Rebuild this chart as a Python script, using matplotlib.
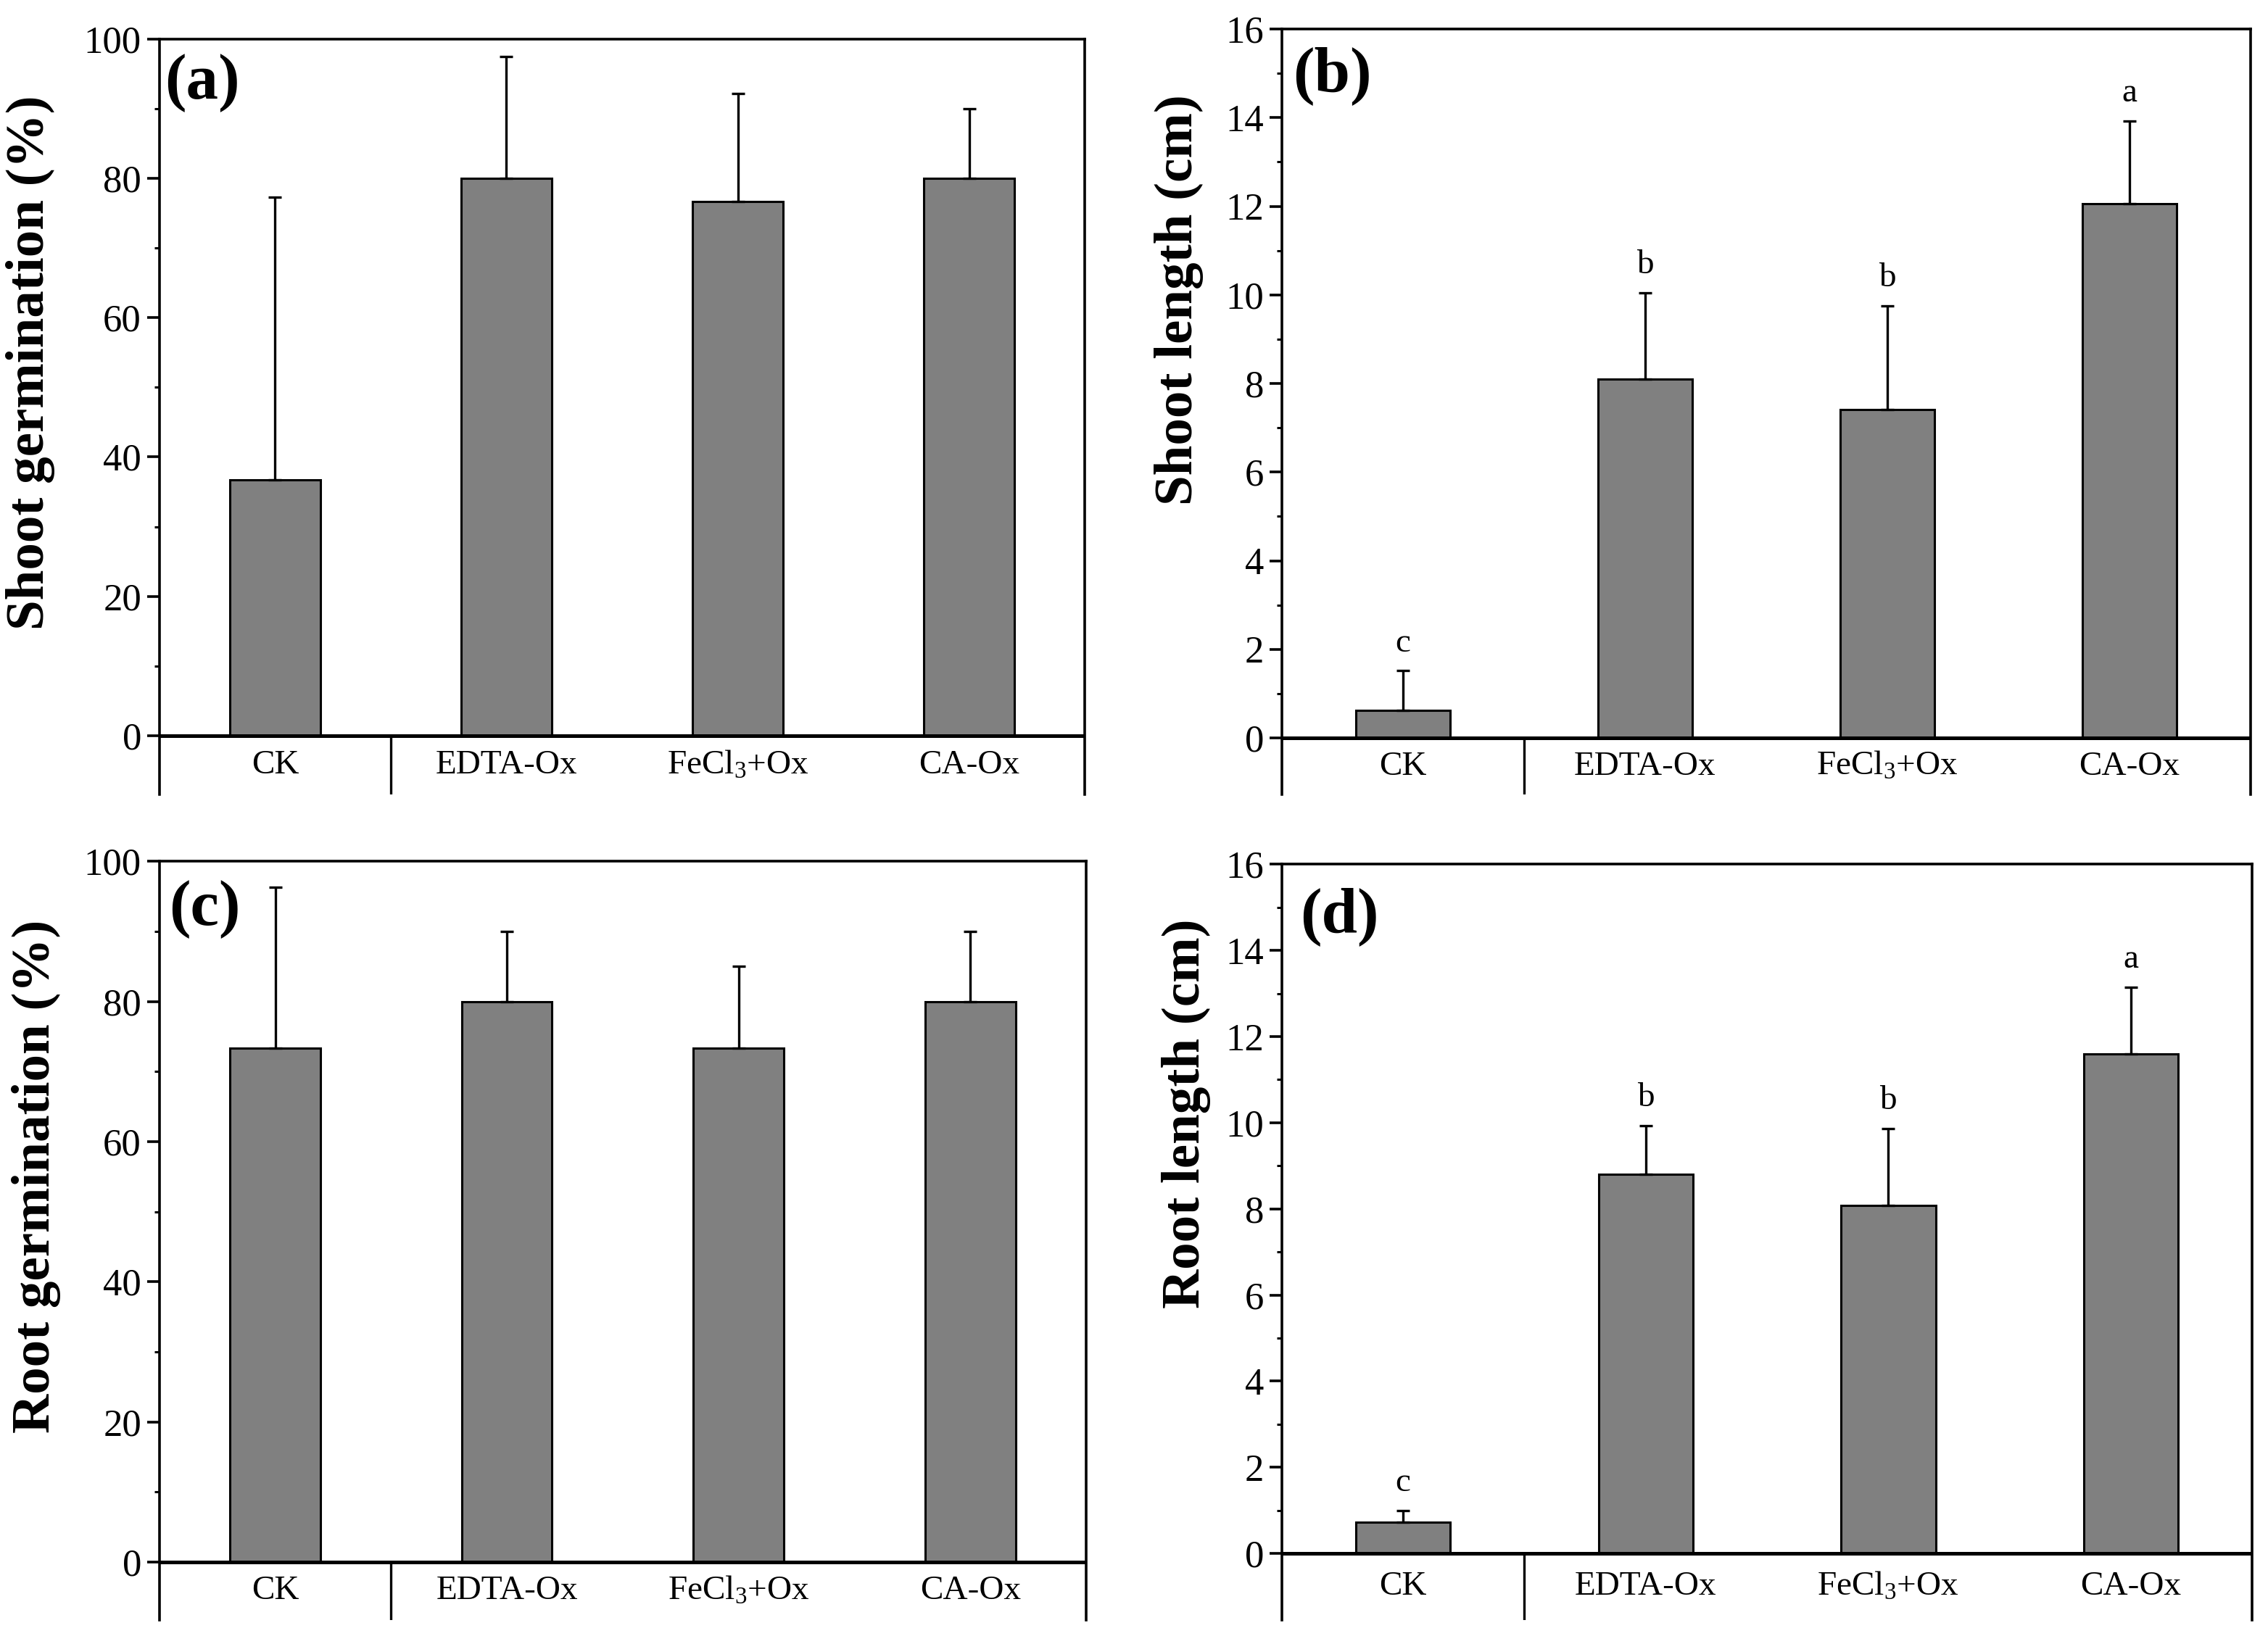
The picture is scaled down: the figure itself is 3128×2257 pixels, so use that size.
import numpy as np
import matplotlib
matplotlib.use('Agg')
import matplotlib.pyplot as plt

plt.rcParams['font.family'] = ['Liberation Serif', 'DejaVu Serif']
plt.rcParams['mathtext.fontset'] = 'custom'
plt.rcParams['mathtext.rm'] = 'Liberation Serif'
plt.rcParams['mathtext.it'] = 'Liberation Serif:italic'

# data
categories = ['CK', 'EDTA-Ox', 'FeCl$_3$+Ox', 'CA-Ox']

shoot_germ = [36.7, 80.0, 76.7, 80.0]
shoot_germ_err = [40.6, 17.5, 15.5, 10.0]

shoot_len = [0.63, 8.1, 7.42, 12.05]
shoot_len_err = [0.89, 1.95, 2.33, 1.88]
shoot_len_sig = ['c', 'b', 'b', 'a']

root_germ = [73.3, 80.0, 73.3, 80.0]
root_germ_err = [23.0, 10.0, 11.7, 10.0]

root_len = [0.72, 8.8, 8.08, 11.6]
root_len_err = [0.28, 1.13, 1.79, 1.55]
root_len_sig = ['c', 'b', 'b', 'a']


def panel(ax, vals, errs, ylabel, tag, ytop, ybot, major, minor,
          lab_x, lab_y, tag_x, tag_y, sig=None):
    x = np.arange(len(vals))
    ax.bar(x, vals, width=0.39, color='#808080', edgecolor='black',
           linewidth=1.1, zorder=2)
    ax.errorbar(x, vals, yerr=[np.zeros(len(errs)), errs], fmt='none',
                ecolor='black', elinewidth=1.2, capsize=3.2, capthick=1.2,
                zorder=3)
    ax.set_xlim(-0.5, len(vals) - 0.5)
    ax.set_ylim(ybot, ytop)

    # x axis drawn at zero, the band below holds the category names
    ax.axhline(0, color='black', linewidth=1.8, zorder=4)
    ax.vlines(0.5, ybot, 0, color='black', linewidth=1.2)
    ax.spines['bottom'].set_visible(False)
    for s in ['left', 'right', 'top']:
        ax.spines[s].set_linewidth(1.3)
    ax.set_xticks([])
    for i, c in enumerate(categories):
        ax.text(i, ybot / 2.0, c, ha='center', va='center', fontsize=17)

    ax.set_yticks(np.arange(0, ytop + 0.01, major))
    ax.set_yticks(np.arange(minor, ytop, major), minor=True)
    ax.tick_params(axis='y', which='major', direction='out', length=6,
                   width=1.3, labelsize=19, pad=3)
    ax.tick_params(axis='y', which='minor', direction='out', length=2.6,
                   width=1.1)

    ax.set_ylabel(ylabel, fontsize=27, fontweight='bold')
    ax.yaxis.set_label_coords(lab_x, lab_y)
    ax.text(tag_x, tag_y, tag, transform=ax.transAxes, fontsize=32,
            fontweight='bold', ha='left', va='center')

    if sig is not None:
        for i, s in enumerate(sig):
            ax.annotate(s, (i, vals[i] + errs[i]), xytext=(0, 6),
                        textcoords='offset points', ha='center',
                        va='bottom', fontsize=17)


fig = plt.figure(figsize=(15.64, 11.285), dpi=200)

ax_a = fig.add_axes([0.0703, 0.5142, 0.4080, 0.4619])
ax_b = fig.add_axes([0.5652, 0.5142, 0.4271, 0.4681])
ax_c = fig.add_axes([0.0703, 0.00975, 0.4086, 0.4637])
ax_d = fig.add_axes([0.5652, 0.00975, 0.4278, 0.4619])

panel(ax_a, shoot_germ, shoot_germ_err, 'Shoot germination (%)', '(a)',
      100, -8.5, 20, 10, -0.113, 0.572, 0.006, 0.942)
panel(ax_b, shoot_len, shoot_len_err, 'Shoot length (cm)', '(b)',
      16, -1.28, 2, 1, -0.081, 0.646, 0.011, 0.939, sig=shoot_len_sig)
panel(ax_c, root_germ, root_germ_err, 'Root germination (%)', '(c)',
      100, -8.3, 20, 10, -0.106, 0.585, 0.010, 0.937)
panel(ax_d, root_len, root_len_err, 'Root length (cm)', '(d)',
      16, -1.55, 2, 1, -0.073, 0.670, 0.019, 0.931, sig=root_len_sig)

fig.savefig('out.png', dpi=200, facecolor='white')
